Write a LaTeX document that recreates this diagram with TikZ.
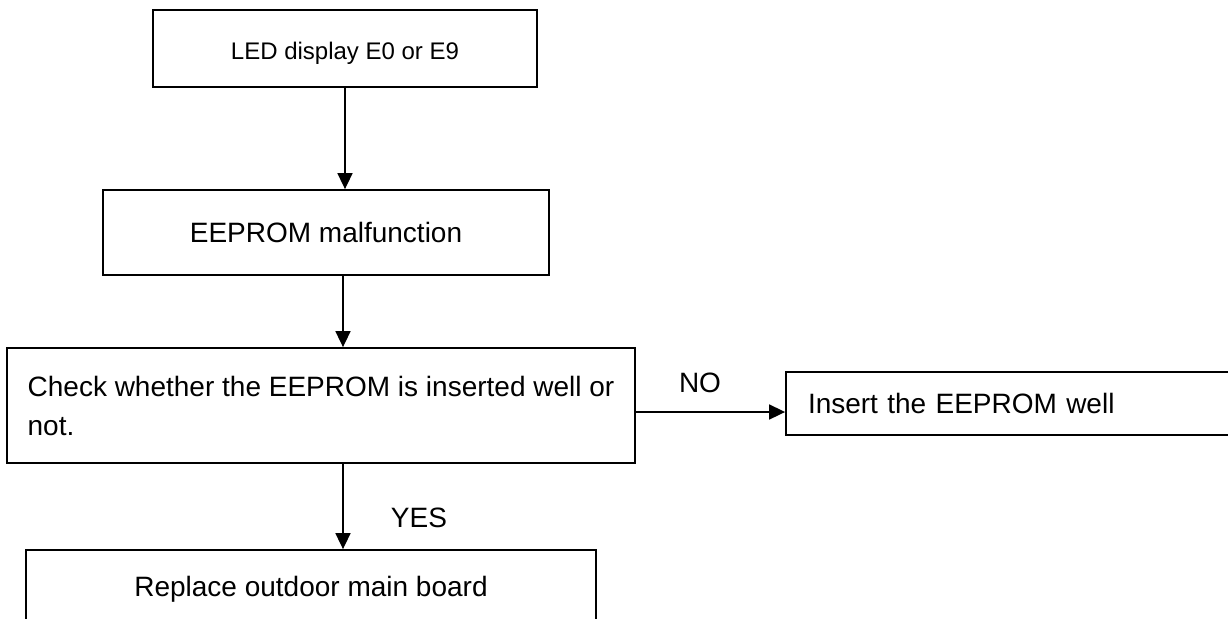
\documentclass[tikz,border=0pt]{standalone}
\usepackage{fontspec}
\setmainfont{Liberation Sans}
\usetikzlibrary{arrows.meta}
\begin{document}
\begin{tikzpicture}[x=0.5pt,y=-0.5pt,
  box/.style={draw, line width=0.9pt, rectangle, inner sep=0pt, font=\fontsize{14}{19.5}\selectfont},
  arr/.style={draw, line width=0.85pt, -{Triangle[length=8pt,width=7.5pt]}},
  lbl/.style={font=\fontsize{14}{16}\selectfont, inner sep=0pt, anchor=base}]
\useasboundingbox (0,0) rectangle (1228,618);
\clip (0,0) rectangle (1228,618);
\node[box, minimum width=192pt, minimum height=38.5pt, font=\fontsize{12}{14}\selectfont, text height=10.5pt, text depth=0pt] (b1) at (345,48.5) {LED display E0 or E9};
\node[box, minimum width=223pt, minimum height=42.5pt] (b2) at (326,232.5) {EEPROM malfunction};
\node[box, minimum width=314pt, minimum height=57.5pt, align=left] (b3) at (321,405.5) {Check whether the EEPROM is inserted well or\\not.};
\node[box, minimum width=227pt, minimum height=31.5pt, text width=205pt, inner xsep=11pt, align=left] (b4) at (1013,403.5) {Insert the EEPROM well};
\node[box, minimum width=285pt, minimum height=39pt] (b5) at (311,589) {Replace outdoor main board};
\coordinate (ax) at (343,0);
\coordinate (noy) at (700,412);
\draw[arr] (b1.south) -- (b1.south |- b2.north);
\draw[arr] (b2.south -| ax) -- (b3.north -| ax);
\draw[arr] (b3.south -| ax) -- (b5.north -| ax);
\draw[arr] (b3.east |- noy) -- (b4.west |- noy);
\node[lbl] (no) at (700,392) {NO};
\node[lbl] (yes) at (419,527) {YES};
\end{tikzpicture}
\end{document}
